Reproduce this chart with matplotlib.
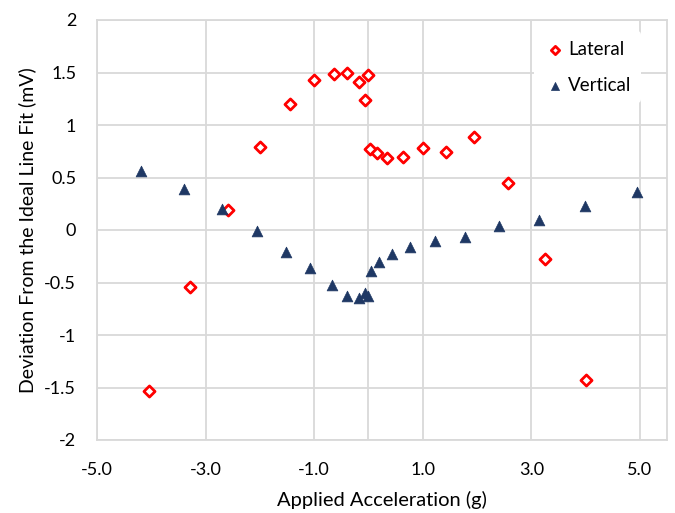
import matplotlib
matplotlib.use("Agg")
import matplotlib.pyplot as plt

# Lateral series
lat_x = [-4.04, -3.28, -2.59, -1.99, -1.45, -1.01, -0.64, -0.39, -0.17, -0.06, -0.01,
         0.02, 0.15, 0.34, 0.63, 1.00, 1.43, 1.95, 2.57, 3.25, 4.00]
lat_y = [-1.53, -0.54, 0.19, 0.79, 1.20, 1.43, 1.49, 1.50, 1.41, 1.24, 1.48,
         0.77, 0.73, 0.69, 0.70, 0.78, 0.74, 0.89, 0.45, -0.28, -1.43]

# Vertical series
ver_x = [-4.19, -3.39, -2.69, -2.06, -1.51, -1.07, -0.67, -0.40, -0.18, -0.06, 0.00,
         0.04, 0.19, 0.44, 0.77, 1.22, 1.77, 2.41, 3.15, 3.99, 4.94]
ver_y = [0.56, 0.39, 0.20, -0.01, -0.21, -0.36, -0.52, -0.63, -0.65, -0.60, -0.63,
         -0.39, -0.30, -0.23, -0.16, -0.10, -0.07, 0.04, 0.10, 0.23, 0.36]

xticks = [-5.0, -3.0, -1.0, 1.0, 3.0, 5.0]
yticks = [-2, -1.5, -1, -0.5, 0, 0.5, 1, 1.5, 2]
ytick_labels = ["-2", "-1.5", "-1", "-0.5", "0", "0.5", "1", "1.5", "2"]

plt.rcParams['font.family'] = ['Lato', 'DejaVu Sans']

fig = plt.figure(figsize=(6.75, 5.13), dpi=100)
ax = fig.add_axes([97/675, 1 - 440/513, (667-97)/675, (440-20)/513])

grid_c = '#d9d9d9'
ax.set_xlim(-5, 5.5)
ax.set_ylim(-2, 2)
ax.set_xticks(xticks)
ax.set_xticklabels([f"{t:.1f}" for t in xticks])
ax.set_yticks(yticks)
ax.set_yticklabels(ytick_labels)
ax.grid(True, color=grid_c, linewidth=1.3, zorder=0)
ax.axvline(0, color=grid_c, linewidth=1.3, zorder=0)
ax.set_axisbelow(True)
for s in ax.spines.values():
    s.set_color(grid_c)
    s.set_linewidth(1.3)
ax.tick_params(length=0, labelsize=13, colors='black')
ax.tick_params(axis='y', pad=15)
ax.tick_params(axis='x', pad=16)

ax.scatter(lat_x, lat_y, marker='D', s=32, facecolors='white', edgecolors='#ff0000',
           linewidths=2, label='Lateral', zorder=3)
ax.scatter(ver_x, ver_y, marker='^', s=60, color='#1f3864', edgecolors='#1f3864',
           linewidths=0.5, label='Vertical', zorder=3)

ax.set_xlabel('Applied Acceleration (g)', fontsize=14.5, labelpad=9)
ax.set_ylabel('Deviation From the Ideal Line Fit (mV)', fontsize=14, labelpad=6)

leg = ax.legend(loc='upper right', bbox_to_anchor=(0.97, 0.995), frameon=True,
                fontsize=13.5, handletextpad=0.1, labelspacing=1.0,
                borderpad=0.5, handlelength=1.2, markerscale=0.75)
leg.get_frame().set_facecolor('white')
leg.get_frame().set_edgecolor('none')
leg.get_frame().set_alpha(1)

fig.savefig('out.png', dpi=100)
